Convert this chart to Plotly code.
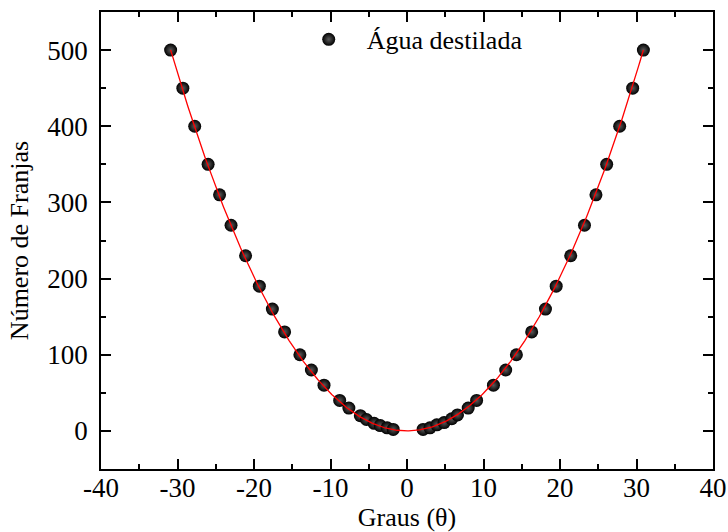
import numpy as np
import plotly.graph_objects as go

# Measured fringe counts versus rotation angle (distilled water)
angulo_neg = [-30.9, -29.3, -27.75, -26.0, -24.5, -23.0, -21.1, -19.3, -17.6, -16.0,
              -14.0, -12.5, -10.85, -8.8, -7.6, -6.1, -5.3, -4.3, -3.5, -2.6, -1.8]
franjas_neg = [500, 450, 400, 350, 310, 270, 230, 190, 160, 130,
               100, 80, 60, 40, 30, 20, 15, 10, 7, 4, 2]
angulo_pos = [2.1, 3.0, 3.9, 4.85, 5.85, 6.6, 8.0, 9.1, 11.3, 12.9,
              14.3, 16.3, 18.1, 19.5, 21.4, 23.2, 24.7, 26.1, 27.8, 29.5, 30.9]
franjas_pos = [2, 4, 8, 11, 16, 21, 30, 40, 60, 80,
               100, 130, 160, 190, 230, 270, 310, 350, 400, 450, 500]

# Axis tick positions and their labels (plain hyphen for negatives)
x_ticks = [-40, -30, -20, -10, 0, 10, 20, 30, 40]
x_ticklabels = ["-40", "-30", "-20", "-10", "0", "10", "20", "30", "40"]
y_ticks = [0, 100, 200, 300, 400, 500]
y_ticklabels = ["0", "100", "200", "300", "400", "500"]

theta = np.array(angulo_neg + angulo_pos)
n_franjas = np.array(franjas_neg + franjas_pos)

# Even polynomial fit N = a*theta^2 + b*theta^4
A = np.column_stack([theta**2, theta**4])
coef, *_ = np.linalg.lstsq(A, n_franjas, rcond=None)
theta_fit = np.linspace(theta.min(), theta.max(), 400)
n_fit = coef[0] * theta_fit**2 + coef[1] * theta_fit**4

FONT = "Liberation Serif"

fig = go.Figure()
fig.add_trace(go.Scatter(
    x=theta, y=n_franjas, mode="markers", name="Água destilada",
    marker=dict(size=13, color="#000000", line=dict(width=0),
                gradient=dict(type="radial", color="#5a5a5a")),
))
fig.add_trace(go.Scatter(
    x=theta_fit, y=n_fit, mode="lines", showlegend=False,
    line=dict(color="#ff0000", width=1.3),
))

axis_common = dict(
    showline=True, linecolor="black", linewidth=1.6, mirror="ticks",
    ticks="inside", ticklen=10, tickwidth=1.6, tickcolor="black",
    showgrid=False, zeroline=False, automargin=False,
    tickfont=dict(family=FONT, size=27, color="black"),
)

fig.update_xaxes(
    range=[-40, 40], tickmode="array", tickvals=x_ticks, ticktext=x_ticklabels,
    minor=dict(ticks="inside", ticklen=5, tickwidth=1.6, dtick=5, tick0=0,
               tickcolor="black", showgrid=False),
    title=dict(text="Graus (θ)", font=dict(family=FONT, size=26, color="black"), standoff=12),
    ticklabelstandoff=-6,
    **axis_common,
)
fig.update_yaxes(
    range=[-50, 550], tickmode="array", tickvals=y_ticks, ticktext=y_ticklabels,
    minor=dict(ticks="inside", ticklen=5, tickwidth=1.6, dtick=50, tick0=0,
               tickcolor="black", showgrid=False),
    title=dict(text="Número de Franjas", font=dict(family=FONT, size=26, color="black"), standoff=11),
    ticklabelstandoff=6,
    **axis_common,
)

fig.update_layout(
    width=728, height=532,
    margin=dict(l=101, r=15, t=12, b=63),
    paper_bgcolor="white", plot_bgcolor="white",
    showlegend=True,
    legend=dict(x=0.31, y=0.94, xanchor="left", yanchor="middle",
                itemwidth=66,
                bgcolor="rgba(0,0,0,0)", borderwidth=0,
                font=dict(family=FONT, size=26, color="black")),
)

fig.write_html("out.html")
